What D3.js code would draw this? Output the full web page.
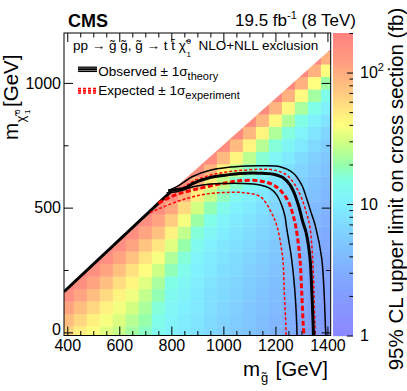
<!DOCTYPE html>
<html>
<head>
<meta charset="utf-8">
<script src="https://cdn.jsdelivr.net/npm/d3@7"></script>
<style>
body { margin: 0; background: #fff; }
svg text { font-family: "Liberation Sans", Arial, Helvetica, sans-serif; fill: #000; }
</style>
</head>
<body>
<div id="chart"></div>
<script>
// Scan grid: gluino mass columns and LSP mass rows (GeV)
const mGluino = [400, 450, 500, 550, 600, 650, 700, 750, 800, 850, 900, 950, 1000, 1050, 1100, 1150, 1200, 1250, 1300, 1350, 1400];
const mLsp = [0, 50, 100, 150, 200, 250, 300, 350, 400, 450, 500, 550, 600, 650, 700, 750, 800, 850, 900, 950, 1000, 1050, 1100, 1150];

// 95% CL upper limit on cross section (fb), per gluino mass, from mLSP = 0 upward
const lim400 = [64, 82, 111, 155, 190];
const lim450 = [48, 61, 82, 112, 155, 190];
const lim500 = [40, 47, 61, 82, 112, 155, 190];
const lim550 = [33, 38, 46, 59, 80, 112, 155, 190];
const lim600 = [28, 32, 37, 45, 57, 78, 110, 155, 190];
const lim650 = [22, 25, 30, 36, 44, 55, 77, 110, 155, 190];
const lim700 = [17.5, 20, 23, 27, 33, 41, 53, 76, 110, 155, 190];
const lim750 = [13, 14, 16, 19, 23, 29, 38, 52, 78, 112, 155, 190];
const lim800 = [10.5, 11, 12, 13, 15, 18.5, 24, 33, 46, 68, 105, 155, 190];
const lim850 = [9, 9.5, 10.2, 11, 12, 13.5, 16, 20, 27, 38, 58, 95, 150, 190];
const lim900 = [8, 8.3, 8.7, 9.1, 9.6, 10.2, 11.2, 13, 16, 21, 30, 48, 90, 155, 190];
const lim950 = [7, 7.2, 7.5, 7.8, 8.2, 8.7, 9.3, 10.3, 12, 14.5, 19, 28, 48, 90, 160, 190];
const lim1000 = [6, 6.2, 6.5, 6.8, 7.1, 7.5, 8, 8.6, 9.6, 11.2, 13.5, 18, 27, 45, 85, 160, 190];
const lim1050 = [5.3, 5.5, 5.8, 6.1, 6.4, 6.8, 7.2, 7.7, 8.3, 9.2, 10.6, 12.8, 17, 26, 44, 85, 165, 190];
const lim1100 = [4.7, 4.9, 5.1, 5.4, 5.7, 6, 6.4, 6.9, 7.4, 8, 9, 10.5, 12.8, 17, 26, 45, 88, 170, 190];
const lim1150 = [4.1, 4.3, 4.5, 4.7, 5, 5.3, 5.6, 6, 6.5, 7, 7.7, 8.7, 10.2, 12.5, 16.5, 25, 44, 88, 170, 190];
const lim1200 = [3.6, 3.7, 3.9, 4.1, 4.3, 4.6, 4.9, 5.2, 5.6, 6, 6.5, 7.1, 8, 9.5, 12, 16, 24, 43, 90, 175, 190];
const lim1250 = [3.1, 3.2, 3.3, 3.5, 3.7, 3.9, 4.2, 4.5, 4.8, 5.2, 5.6, 6.1, 6.7, 7.6, 9, 11.5, 15.5, 24, 43, 95, 175, 190];
const lim1300 = [2.6, 2.7, 2.8, 2.95, 3.1, 3.3, 3.5, 3.8, 4.1, 4.4, 4.8, 5.2, 5.7, 6.3, 7.2, 8.7, 11, 15, 23, 42, 95, 175, 190];
const lim1350 = [2.2, 2.3, 2.4, 2.5, 2.65, 2.8, 3, 3.2, 3.45, 3.7, 4, 4.4, 4.8, 5.3, 5.9, 6.8, 8.3, 10.5, 14.5, 22, 40, 95, 175, 190];
const lim1400 = [1.9, 2, 2.1, 2.2, 2.3, 2.45, 2.6, 2.8, 3, 3.2, 3.45, 3.75, 4.1, 4.5, 5, 5.6, 6.5, 8, 10.3, 14, 21, 40, 95, 175];
const limits = [lim400, lim450, lim500, lim550, lim600, lim650, lim700, lim750, lim800, lim850, lim900,
  lim950, lim1000, lim1050, lim1100, lim1150, lim1200, lim1250, lim1300, lim1350, lim1400];

// upper edge of the scanned region [m_gluino, m_LSP]
const scanEdge = [[387.5, 163], [800, 566], [1412.5, 1135]];

// exclusion contours [m_gluino, m_LSP]
const obsCurve = [[788, 568], [821, 573], [852, 578], [884, 597], [949, 621], [1013, 631], [1064, 637], [1141, 638],
  [1192, 634], [1230, 620], [1256, 591], [1275, 551], [1292, 497], [1305, 444], [1318, 400], [1333, 297],
  [1340, 163], [1345, 30], [1346, -12.5]];
const obsUpCurve = [[795, 571], [821, 584], [884, 626], [949, 650], [1013, 661], [1090, 667], [1150, 668], [1218, 664],
  [1269, 638], [1301, 591], [1320, 537], [1336, 484], [1354, 425], [1378, 297], [1387, 163], [1392, 30], [1394, -12.5]];
const obsDownCurve = [[782, 560], [821, 564], [852, 573], [884, 584], [949, 595], [1013, 597], [1064, 597], [1141, 591],
  [1179, 577], [1205, 551], [1224, 510], [1237, 464], [1243, 420], [1262, 297], [1275, 163], [1282, 30], [1283, -12.5]];
const expCurve = [[750, 518], [795, 542], [833, 557], [884, 571], [949, 587], [1013, 600], [1064, 608], [1141, 607],
  [1192, 591], [1224, 564], [1250, 524], [1266, 477], [1279, 420], [1294, 297], [1301, 163], [1307, 30], [1310, -12.5]];
const expUpCurve = [[805, 572], [846, 581], [884, 606], [949, 630], [1013, 643], [1077, 650], [1141, 654], [1192, 651],
  [1243, 631], [1275, 591], [1301, 537], [1320, 477], [1333, 420], [1343, 297], [1348, 163], [1352, 30], [1354, -12.5]];
const expDownCurve = [[718, 480], [756, 497], [821, 524], [884, 544], [949, 557], [1013, 561], [1077, 560], [1141, 545],
  [1166, 515], [1186, 477], [1205, 430], [1228, 297], [1234, 163], [1240, 30], [1241, -12.5]];

// ticks
const xMajor = [400, 600, 800, 1000, 1200, 1400];
const xMinor = [450, 500, 550, 650, 700, 750, 850, 900, 950, 1050, 1100, 1150, 1250, 1300, 1350];
const yMajor = [0, 500, 1000];
const yMinor = [250, 750];
const zMajor = [1, 10, 100];
const zMinor = [2, 3, 4, 5, 6, 7, 8, 9, 20, 30, 40, 50, 60, 70, 80, 90, 200];

// colour palette of the z axis
const paletteValues = [1, 2.6, 5.6, 10, 15, 20, 30, 40, 64, 116, 200];
const paletteColors = ["#8c87ff", "#80a5ff", "#80cdff", "#80f0ff", "#80ffe6", "#96ffaa", "#d2ff82", "#ffff80", "#ffd280", "#ffa080", "#ff8080"];

const W = 407, H = 391;
const plot = { left: 64, right: 330.7, top: 33, bottom: 335.5 };
const bar = { left: 333, right: 353 };

const svg = d3.select("#chart").append("svg")
  .attr("width", W).attr("height", H);

const x = d3.scaleLinear().domain([387.5, 1412.5]).range([plot.left, plot.right]);
const y = d3.scaleLinear().domain([-12.5, 1200]).range([plot.bottom, plot.top]);
const z = d3.scaleLog().domain([1, 200]).range([plot.bottom, plot.top]);
const color = d3.scaleLog().domain(paletteValues).range(paletteColors).clamp(true);

// clip: frame below the scan edge
const edgePts = scanEdge.map(d => [x(d[0]), y(d[1])]);
const clipPoly = [[x(387.5), y(-12.5)], [x(1412.5), y(-12.5)]].concat(edgePts.slice().reverse());
const defs = svg.append("defs");
defs.append("clipPath").attr("id", "scan")
  .append("polygon").attr("points", clipPoly.map(p => p.join(",")).join(" "));
defs.append("clipPath").attr("id", "frame")
  .append("rect").attr("x", plot.left).attr("y", plot.top)
  .attr("width", plot.right - plot.left).attr("height", plot.bottom - plot.top);

// heat map cells
const cells = mGluino.flatMap((mg, i) => limits[i].map((v, j) => ({ mg, ml: mLsp[j], v })));
svg.append("g").attr("clip-path", "url(#scan)")
  .selectAll("rect").data(cells).enter().append("rect")
  .attr("x", d => x(d.mg - 25))
  .attr("y", d => y(d.ml + 25))
  .attr("width", d => x(d.mg + 25) - x(d.mg - 25) + 0.4)
  .attr("height", d => y(d.ml - 25) - y(d.ml + 25) + 0.4)
  .attr("fill", d => color(d.v));

// contours
const line = d3.line().x(d => x(d[0])).y(d => y(d[1])).curve(d3.curveCatmullRom.alpha(0.5));
const cg = svg.append("g").attr("clip-path", "url(#frame)").attr("fill", "none");
cg.append("path").datum(scanEdge.slice(0, 2)).attr("d", d3.line().x(d => x(d[0])).y(d => y(d[1])))
  .attr("stroke", "#000").attr("stroke-width", 3);
[
  [expDownCurve, "#ff0000", 1.5, "3,2"],
  [expUpCurve, "#ff0000", 1.5, "3,2"],
  [expCurve, "#ff0000", 3, "5,2.5"],
  [obsDownCurve, "#000", 1.5, null],
  [obsUpCurve, "#000", 1.5, null],
  [obsCurve, "#000", 3, null]
].forEach(([data, stroke, sw, dash]) => {
  cg.append("path").datum(data).attr("d", line)
    .attr("stroke", stroke).attr("stroke-width", sw)
    .attr("stroke-dasharray", dash);
});

// axes (ticks inward, ROOT style)
function styleAxis(g) {
  g.select(".domain").remove();
  g.selectAll("line").attr("stroke", "#000");
  g.selectAll("text").attr("font-size", 16).attr("font-family", "Liberation Sans, Arial, sans-serif");
}
svg.append("g").attr("transform", `translate(0,${plot.bottom})`)
  .call(d3.axisBottom(x).tickValues(xMinor).tickSize(-4.5).tickFormat("")).call(styleAxis);
svg.append("g").attr("transform", `translate(0,${plot.bottom})`)
  .call(d3.axisBottom(x).tickValues(xMajor).tickSize(-9).tickPadding(4).tickFormat(d3.format("d"))).call(styleAxis);
svg.append("g").attr("transform", `translate(0,${plot.top})`)
  .call(d3.axisTop(x).tickValues(xMinor).tickSize(-4.5).tickFormat("")).call(styleAxis);
svg.append("g").attr("transform", `translate(0,${plot.top})`)
  .call(d3.axisTop(x).tickValues(xMajor).tickSize(-9).tickFormat("")).call(styleAxis);
svg.append("g").attr("transform", `translate(${plot.left},0)`)
  .call(d3.axisLeft(y).tickValues(yMinor).tickSize(-4.5).tickFormat("")).call(styleAxis);
svg.append("g").attr("transform", `translate(${plot.left},0)`)
  .call(d3.axisLeft(y).tickValues(yMajor).tickSize(-9).tickPadding(3).tickFormat(d3.format("d"))).call(styleAxis)
  .selectAll("text").attr("dy", d => d === 0 ? "0.15em" : "0.32em");
svg.append("g").attr("transform", `translate(${plot.right},0)`)
  .call(d3.axisRight(y).tickValues(yMinor).tickSize(-4.5).tickFormat("")).call(styleAxis);
svg.append("g").attr("transform", `translate(${plot.right},0)`)
  .call(d3.axisRight(y).tickValues(yMajor).tickSize(-9).tickFormat("")).call(styleAxis);

svg.append("rect").attr("x", plot.left).attr("y", plot.top)
  .attr("width", plot.right - plot.left).attr("height", plot.bottom - plot.top)
  .attr("fill", "none").attr("stroke", "#000").attr("stroke-width", 1);

// colour bar
const barRows = d3.range(Math.floor(plot.top), Math.ceil(plot.bottom));
svg.append("g").selectAll("rect").data(barRows).enter().append("rect")
  .attr("x", bar.left).attr("y", d => d)
  .attr("width", bar.right - bar.left).attr("height", 1.2)
  .attr("fill", d => color(z.invert(d + 0.5)));
svg.append("g").attr("transform", `translate(${bar.right},0)`)
  .call(d3.axisRight(z).tickValues(zMinor).tickSize(-3.5).tickFormat("")).call(styleAxis);
svg.append("g").attr("transform", `translate(${bar.right},0)`)
  .call(d3.axisRight(z).tickValues(zMajor).tickSize(-6).tickFormat("")).call(styleAxis);
const zl = svg.append("g").attr("font-size", 16);
zl.append("text").attr("x", 360).attr("y", z(1)).attr("dy", "0.35em").text("1");
zl.append("text").attr("x", 360).attr("y", z(10)).attr("dy", "0.35em").text("10");
const z2 = zl.append("text").attr("x", 360).attr("y", z(100)).attr("dy", "0.35em");
z2.append("tspan").text("10");
z2.append("tspan").attr("font-size", 11).attr("dy", -7).text("2");

svg.append("text")
  .attr("transform", "translate(403,189) rotate(-90)")
  .attr("text-anchor", "middle").attr("font-size", 20.5)
  .text("95% CL upper limit on cross section (fb)");

// header
svg.append("text").attr("x", 68).attr("y", 26.5).attr("font-size", 18).attr("font-weight", "bold").text("CMS");
const lumi = svg.append("text").attr("x", 356).attr("y", 26).attr("text-anchor", "end").attr("font-size", 17);
lumi.append("tspan").text("19.5 fb");
lumi.append("tspan").attr("font-size", 11).attr("dy", -7).text("-1");
lumi.append("tspan").attr("dy", 7).text(" (8 TeV)");

// axis titles
const xt = svg.append("g").attr("font-size", 20.5);
xt.append("text").attr("x", 243).attr("y", 376).text("m");
xt.append("text").attr("x", 261).attr("y", 382).attr("font-size", 13).text("g\u0303");
xt.append("text").attr("x", 328).attr("y", 376).attr("text-anchor", "end").text("[GeV]");

const yt = svg.append("g").attr("transform", "translate(18,140) rotate(-90)").attr("font-size", 20.5);
yt.append("text").attr("x", 0).attr("y", 0).text("m");
yt.append("text").attr("x", 17.5).attr("y", 7).attr("font-size", 13).text("\u03c7\u0303");
yt.append("text").attr("x", 26).attr("y", 2).attr("font-size", 8).text("0");
yt.append("text").attr("x", 26).attr("y", 12).attr("font-size", 8).text("1");
yt.append("text").attr("x", 33).attr("y", 0).text("[GeV]");

// legend
const lg = svg.append("g").attr("font-size", 13.5);
const procText = lg.append("text").attr("x", 73).attr("y", 50)
  .text("pp \u2192 g\u0303 g\u0303, g\u0303 \u2192 t t\u0304 \u03c7\u0303");
const procEnd = 73 + procText.node().getComputedTextLength() + 0.5;
lg.append("text").attr("x", procEnd).attr("y", 44).attr("font-size", 8).text("0");
lg.append("text").attr("x", procEnd).attr("y", 57).attr("font-size", 8).text("1");
lg.append("text").attr("x", Math.max(195, procEnd + 12)).attr("y", 50).text("NLO+NLL exclusion");

const obsLeg = lg.append("text").attr("x", 98.3).attr("y", 76);
obsLeg.append("tspan").text("Observed \u00b1 1\u03c3");
obsLeg.append("tspan").attr("font-size", 11).attr("dy", 4).text("theory");
const expLeg = lg.append("text").attr("x", 98.3).attr("y", 95);
expLeg.append("tspan").text("Expected \u00b1 1\u03c3");
expLeg.append("tspan").attr("font-size", 11).attr("dy", 4).text("experiment");

[[67.2, 1.3], [69.3, 2.2], [71.4, 1.3]].forEach(([ly, sw]) => {
  lg.append("line").attr("x1", 78).attr("x2", 97).attr("y1", ly).attr("y2", ly)
    .attr("stroke", "#000").attr("stroke-width", sw);
});
[[88.3, 1.3], [90.7, 2.2], [93, 1.3]].forEach(([ly, sw]) => {
  lg.append("line").attr("x1", 78).attr("x2", 97).attr("y1", ly).attr("y2", ly)
    .attr("stroke", "#ff0000").attr("stroke-width", sw).attr("stroke-dasharray", "3,2");
});
</script>
</body>
</html>
